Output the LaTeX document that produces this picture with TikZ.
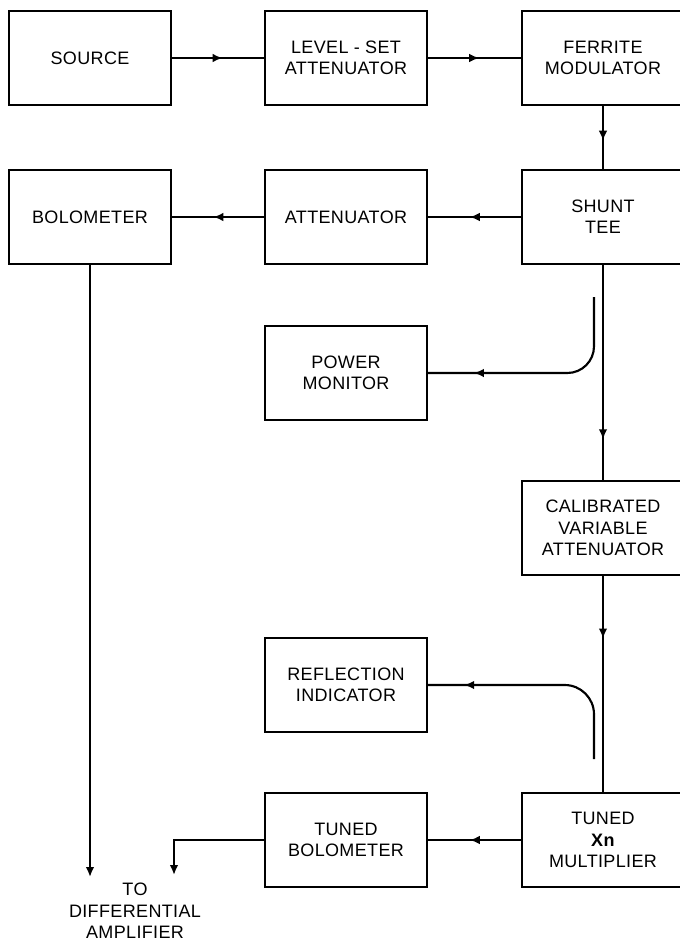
\documentclass[tikz,border=0pt]{standalone}
\usepackage{fontspec}
\setmainfont{Liberation Sans}
\newfontfamily\lblfont[LetterSpace=2]{Liberation Sans}
\usetikzlibrary{arrows.meta,decorations.markings}

\tikzset{
  lbl/.style={align=center,font=\lblfont\fontsize{13.5}{16}\selectfont},
  blk/.style={lbl,draw,minimum width=121pt,minimum height=70pt},
  midarr/.style={postaction={decorate},
    decoration={markings,mark=at position #1 with {\arrow{>}}}},
  midarr/.default=0.5
}

\begin{document}
\begin{tikzpicture}[x=0.75pt,y=-0.75pt,>={Latex[length=7.5pt,width=6.5pt]},line width=1.6pt]
    \useasboundingbox (0,0) rectangle (679,943);
    % Blocks
    \node[blk] (src) at (90,58)  {SOURCE};
    \node[blk] (lvl) at (346,58) {LEVEL - SET\\ATTENUATOR};
    \node[blk] (fer) at (603,58) {FERRITE\\MODULATOR};
    \node[blk] (bol) at (90,217)  {BOLOMETER};
    \node[blk] (att) at (346,217) {ATTENUATOR};
    \node[blk] (tee) at (603,217) {SHUNT\\TEE};
    \node[blk] (pm)  at (346,373) {POWER\\MONITOR};
    \node[blk] (cal) at (603,528) {CALIBRATED\\VARIABLE\\ATTENUATOR};
    \node[blk] (ri)  at (346,685) {REFLECTION\\INDICATOR};
    \node[blk] (tb)  at (346,840) {TUNED\\BOLOMETER};
    \node[blk] (xn)  at (603,840) {TUNED\\\textbf{Xn}\\MULTIPLIER};
    \node[lbl] (diff) at (135,911) {TO\\DIFFERENTIAL\\AMPLIFIER};
    % Free ends
    \coordinate (pmtap) at (594,297);
    \coordinate (ritap) at (594,759);
    \coordinate (bolend) at (90,877);
    \coordinate (tbend) at (174,875);
    % Main path
    \draw[midarr=0.55] (src) -- (lvl);
    \draw[midarr=0.55] (lvl) -- (fer);
    \draw[midarr=0.55] (fer) -- (tee);
    \draw[midarr=0.55] (tee) -- (att);
    \draw[midarr=0.55] (att) -- (bol);
    \draw[midarr=0.81] (tee) -- (cal);
    \draw[midarr=0.29] (cal) -- (xn);
    \draw[midarr=0.55] (xn) -- (tb);
    % Couplers
    \draw[midarr=0.8,rounded corners=20pt] (pmtap) -- (pmtap |- pm) -- (pm);
    \draw[midarr=0.84,rounded corners=22pt] (ritap) -- (ritap |- ri) -- (ri);
    % Outputs
    \draw[->] (bol) -- (bolend);
    \draw[->] (tb) -| (tbend);
\end{tikzpicture}
\end{document}
